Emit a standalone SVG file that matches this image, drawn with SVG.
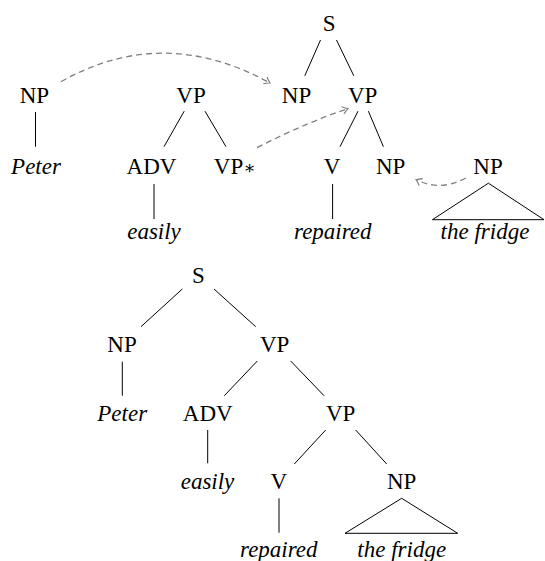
<svg xmlns="http://www.w3.org/2000/svg" width="545" height="561" viewBox="0 0 545 561">
<style>
svg text, g text, #nodes text { font-family: "Liberation Serif", "Times New Roman", serif !important; font-size: 23px !important; text-anchor: middle; }
svg text.it, g text.it, #nodes text.it { font-style: italic !important; }
.e { stroke: #000; stroke-width: 1; fill: none; }
.d { stroke: #808080; stroke-width: 1.3; fill: none; stroke-dasharray: 6 4; }
</style>
<defs>
<marker id="ah" markerUnits="userSpaceOnUse" markerWidth="12" markerHeight="12" viewBox="-7 -6 8 12" refX="0" refY="0" orient="auto">
<path d="M-5.5,-3.8 Q-2,-1 0,0 Q-2,1 -5.5,3.8" stroke="#808080" stroke-width="1.2" fill="none"/>
</marker>
</defs>
<rect width="545" height="561" fill="#fff"/>
<g id="edges">
<line class="e" x1="320.5" y1="40" x2="304.8" y2="75.8"/>
<line class="e" x1="336.5" y1="40" x2="353.8" y2="75.8"/>
<line class="e" x1="358" y1="111.2" x2="340" y2="146.7"/>
<line class="e" x1="368.4" y1="111.2" x2="383.4" y2="146.7"/>
<line class="e" x1="332.6" y1="184" x2="332.6" y2="219"/>
<line class="e" x1="35.5" y1="112" x2="35.5" y2="146.7"/>
<line class="e" x1="184.2" y1="111.2" x2="164" y2="146.7"/>
<line class="e" x1="205" y1="111.2" x2="226" y2="146.7"/>
<line class="e" x1="154" y1="184" x2="154" y2="219"/>
<polygon class="e" points="488.4,183.2 432.4,219.7 544,219.7"/>
<path class="d" d="M61,81.7 Q163,24 270,83" marker-end="url(#ah)"/>
<path class="d" d="M257,147.7 Q305,123 348,108.6" marker-end="url(#ah)"/>
<path class="d" d="M465.8,178 Q440,192 416,179.5" marker-end="url(#ah)"/>
<line class="e" x1="182.3" y1="289" x2="141" y2="326.7"/>
<line class="e" x1="214" y1="289" x2="255.7" y2="326.7"/>
<line class="e" x1="122.3" y1="361.7" x2="122.3" y2="395.7"/>
<line class="e" x1="257.3" y1="361" x2="224.3" y2="395.7"/>
<line class="e" x1="290.7" y1="361" x2="324" y2="395.7"/>
<line class="e" x1="207.7" y1="430" x2="207.7" y2="463.3"/>
<line class="e" x1="325.7" y1="430" x2="294.3" y2="464"/>
<line class="e" x1="355.7" y1="430" x2="386.7" y2="464"/>
<line class="e" x1="279" y1="498.3" x2="279" y2="532.7"/>
<polygon class="e" points="401.7,498.3 345,533.3 457.7,533.3"/>
</g>
<g id="nodes" font-family="Liberation Serif" font-size="23" text-anchor="middle">
<g id="top-S"><text font-family="Liberation Serif" x="329.2" y="30.6">S</text></g>
<g id="top-NP-subj"><text font-family="Liberation Serif" x="296.5" y="102.5">NP</text></g>
<g id="top-VP"><text font-family="Liberation Serif" x="362.7" y="102.5">VP</text></g>
<g id="top-V"><text font-family="Liberation Serif" x="332" y="173.8">V</text></g>
<g id="top-NP-obj"><text font-family="Liberation Serif" x="390.6" y="173.8">NP</text></g>
<g id="top-repaired"><text class="it" font-family="Liberation Serif" font-style="italic" x="332.8" y="239">repaired</text></g>
<g id="peter-NP"><text font-family="Liberation Serif" x="34.4" y="102.5">NP</text></g>
<g id="peter"><text class="it" font-family="Liberation Serif" font-style="italic" x="36" y="173.8">Peter</text></g>
<g id="aux-VP"><text font-family="Liberation Serif" x="191" y="102.5">VP</text></g>
<g id="aux-ADV"><text font-family="Liberation Serif" x="151.5" y="173.8">ADV</text></g>
<g id="aux-VPstar"><text font-family="Liberation Serif" x="234.6" y="173.8">VP<tspan font-family="DejaVu Serif" font-size="18">∗</tspan></text></g>
<g id="aux-easily"><text class="it" font-family="Liberation Serif" font-style="italic" x="154" y="239">easily</text></g>
<g id="fridge-NP"><text font-family="Liberation Serif" x="488" y="173.8">NP</text></g>
<g id="fridge"><text class="it" font-family="Liberation Serif" font-style="italic" x="485" y="239">the fridge</text></g>
<g id="b-S"><text font-family="Liberation Serif" x="198.3" y="283.3">S</text></g>
<g id="b-NP"><text font-family="Liberation Serif" x="122" y="351.7">NP</text></g>
<g id="b-Peter"><text class="it" font-family="Liberation Serif" font-style="italic" x="122.2" y="420.7">Peter</text></g>
<g id="b-VP"><text font-family="Liberation Serif" x="274.7" y="351.7">VP</text></g>
<g id="b-ADV"><text font-family="Liberation Serif" x="207.7" y="420.7">ADV</text></g>
<g id="b-easily"><text class="it" font-family="Liberation Serif" font-style="italic" x="207.5" y="489.3">easily</text></g>
<g id="b-VP2"><text font-family="Liberation Serif" x="340.7" y="420.7">VP</text></g>
<g id="b-V"><text font-family="Liberation Serif" x="278.7" y="489.3">V</text></g>
<g id="b-repaired"><text class="it" font-family="Liberation Serif" font-style="italic" x="278.8" y="556.5">repaired</text></g>
<g id="b-NP2"><text font-family="Liberation Serif" x="401.7" y="489.3">NP</text></g>
<g id="b-fridge"><text class="it" font-family="Liberation Serif" font-style="italic" x="401.7" y="556.5">the fridge</text></g>
</g>
</svg>
